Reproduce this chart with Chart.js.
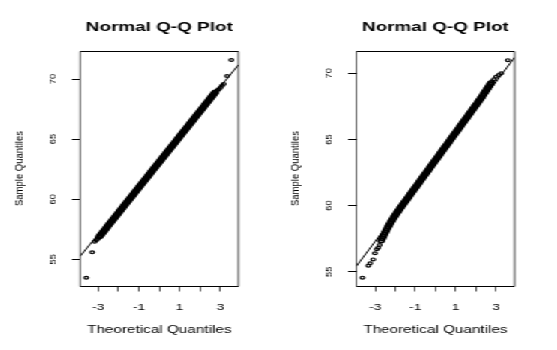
<!DOCTYPE html>
<html>
<head>
<meta charset="utf-8">
<script src="https://cdn.jsdelivr.net/npm/chart.js@4.4.0/dist/chart.umd.min.js"></script>
<style>
  html, body { margin: 0; padding: 0; background: #fff; overflow: hidden; }
  #stage { position: absolute; left: 0; top: 0; width: 372px; height: 350px;
           transform: scaleX(1.5); transform-origin: 0 0; }
  .panel { position: absolute; top: 0; width: 186px; height: 350px; }
</style>
</head>
<body>
<div id="stage">
  <div class="panel" style="left:0"><canvas id="qqLeft"></canvas></div>
  <div class="panel" style="left:186px"><canvas id="qqRight"></canvas></div>
</div>
<script>
// ---- text ----
const mainTitle = 'Normal Q-Q Plot';
const xTitle = 'Theoretical Quantiles';
const yTitle = 'Sample Quantiles';

// ---- axis ticks ----
const xTicks = [-3, -2, -1, 0, 1, 2, 3];
const xTickText = ['-3', '', '-1', '', '1', '', '3'];
const yTicks = [55, 60, 65, 70];
const yTickText = ['55', '60', '65', '70'];

// ---- left sample: theoretical (x) vs sample (y) quantiles ----
// isolated points in the tails
const leftTailX = [-3.59, -3.30, -3.18, -3.10, -3.03, 2.80, 2.86, 2.92, 3.00, 3.08, 3.16, 3.33, 3.54];
const leftTailY = [53.47, 55.58, 56.46, 56.58, 56.70, 68.96, 69.06, 69.14, 69.28, 69.44, 69.58, 70.25, 71.58];
// densely overplotted body
const leftBodyX = [
  -2.95, -2.90, -2.85, -2.80, -2.75, -2.70, -2.65, -2.60, -2.55, -2.50,
  -2.45, -2.40, -2.35, -2.30, -2.25, -2.20, -2.15, -2.10, -2.05, -2.00,
  -1.95, -1.90, -1.85, -1.80, -1.75, -1.70, -1.65, -1.60, -1.55, -1.50,
  -1.45, -1.40, -1.35, -1.30, -1.25, -1.20, -1.15, -1.10, -1.05, -1.00,
  -0.95, -0.90, -0.85, -0.80, -0.75, -0.70, -0.65, -0.60, -0.55, -0.50,
  -0.45, -0.40, -0.35, -0.30, -0.25, -0.20, -0.15, -0.10, -0.05, 0.00,
  0.05, 0.10, 0.15, 0.20, 0.25, 0.30, 0.35, 0.40, 0.45, 0.50,
  0.55, 0.60, 0.65, 0.70, 0.75, 0.80, 0.85, 0.90, 0.95, 1.00,
  1.05, 1.10, 1.15, 1.20, 1.25, 1.30, 1.35, 1.40, 1.45, 1.50,
  1.55, 1.60, 1.65, 1.70, 1.75, 1.80, 1.85, 1.90, 1.95, 2.00,
  2.05, 2.10, 2.15, 2.20, 2.25, 2.30, 2.35, 2.40, 2.45, 2.50,
  2.55, 2.60, 2.65, 2.70, 2.75
];
const leftBodyY = [
  56.88, 56.98, 57.09, 57.19, 57.30, 57.40, 57.51, 57.61, 57.72, 57.83,
  57.93, 58.04, 58.14, 58.25, 58.35, 58.46, 58.56, 58.67, 58.77, 58.88,
  58.99, 59.09, 59.20, 59.30, 59.41, 59.51, 59.62, 59.72, 59.83, 59.94,
  60.04, 60.15, 60.25, 60.36, 60.46, 60.57, 60.67, 60.78, 60.88, 60.99,
  61.10, 61.20, 61.31, 61.41, 61.52, 61.62, 61.73, 61.83, 61.94, 62.05,
  62.15, 62.26, 62.36, 62.47, 62.57, 62.68, 62.78, 62.89, 62.99, 63.10,
  63.21, 63.31, 63.42, 63.52, 63.63, 63.73, 63.84, 63.94, 64.05, 64.16,
  64.26, 64.37, 64.47, 64.58, 64.68, 64.79, 64.89, 65.00, 65.10, 65.21,
  65.32, 65.42, 65.53, 65.63, 65.74, 65.84, 65.95, 66.05, 66.16, 66.27,
  66.37, 66.48, 66.58, 66.69, 66.79, 66.90, 67.00, 67.11, 67.21, 67.32,
  67.43, 67.53, 67.64, 67.74, 67.85, 67.95, 68.06, 68.16, 68.27, 68.38,
  68.48, 68.59, 68.69, 68.80, 68.90
];
// reference line: [intercept, slope]
const leftLine = [63.22, 2.047];

// ---- right sample ----
const rightTailX = [-3.63, -3.34, -3.25, -3.10, -3.01, -2.92, -2.85, -2.78, 2.80, 2.89, 3.00, 3.13, 3.25, 3.58];
const rightTailY = [54.55, 55.46, 55.64, 55.93, 56.39, 56.70, 56.82, 57.02, 69.40, 69.55, 69.74, 69.87, 70.00, 71.00];
const rightBodyX = [
  -2.70, -2.65, -2.60, -2.55, -2.50, -2.45, -2.40, -2.35, -2.30, -2.25,
  -2.20, -2.15, -2.10, -2.05, -2.00, -1.95, -1.90, -1.85, -1.80, -1.75,
  -1.70, -1.65, -1.60, -1.55, -1.50, -1.45, -1.40, -1.35, -1.30, -1.25,
  -1.20, -1.15, -1.10, -1.05, -1.00, -0.95, -0.90, -0.85, -0.80, -0.75,
  -0.70, -0.65, -0.60, -0.55, -0.50, -0.45, -0.40, -0.35, -0.30, -0.25,
  -0.20, -0.15, -0.10, -0.05, 0.00, 0.05, 0.10, 0.15, 0.20, 0.25,
  0.30, 0.35, 0.40, 0.45, 0.50, 0.55, 0.60, 0.65, 0.70, 0.75,
  0.80, 0.85, 0.90, 0.95, 1.00, 1.05, 1.10, 1.15, 1.20, 1.25,
  1.30, 1.35, 1.40, 1.45, 1.50, 1.55, 1.60, 1.65, 1.70, 1.75,
  1.80, 1.85, 1.90, 1.95, 2.00, 2.05, 2.10, 2.15, 2.20, 2.25,
  2.30, 2.35, 2.40, 2.45, 2.50, 2.55, 2.60, 2.65, 2.70, 2.75
];
const rightBodyY = [
  57.35, 57.51, 57.67, 57.82, 57.97, 58.12, 58.26, 58.40, 58.53, 58.66,
  58.79, 58.92, 59.04, 59.16, 59.27, 59.38, 59.49, 59.60, 59.71, 59.81,
  59.91, 60.02, 60.12, 60.23, 60.33, 60.43, 60.54, 60.64, 60.75, 60.85,
  60.95, 61.06, 61.16, 61.27, 61.37, 61.47, 61.58, 61.68, 61.79, 61.89,
  61.99, 62.10, 62.20, 62.31, 62.41, 62.51, 62.62, 62.72, 62.83, 62.93,
  63.03, 63.14, 63.24, 63.35, 63.45, 63.55, 63.66, 63.76, 63.87, 63.97,
  64.07, 64.18, 64.28, 64.39, 64.49, 64.59, 64.70, 64.80, 64.91, 65.01,
  65.11, 65.22, 65.32, 65.43, 65.53, 65.63, 65.74, 65.84, 65.95, 66.05,
  66.15, 66.26, 66.36, 66.47, 66.57, 66.67, 66.78, 66.88, 66.99, 67.09,
  67.19, 67.30, 67.40, 67.51, 67.61, 67.71, 67.82, 67.92, 68.03, 68.13,
  68.24, 68.36, 68.47, 68.59, 68.70, 68.82, 68.93, 69.05, 69.16, 69.28
];
const rightLine = [63.33, 2.014];

// ---- drawing ----
const stretchX = 1.5;           // horizontal scale applied to #stage
const FONT = "'Liberation Sans', Arial, Helvetica, sans-serif";

// full frame around the plot region plus upright-proportioned y labels
const framePlugin = {
  id: 'frame',
  afterDraw(chart, args, opts) {
    const { ctx, chartArea: a, scales } = chart;
    const ys = scales.y;
    ctx.save();
    ctx.strokeStyle = '#000';
    ctx.fillStyle = '#000';
    const top = Math.round(a.top) + 0.5, bot = Math.round(a.bottom) + 0.5;
    ctx.lineWidth = 1;
    ctx.beginPath();
    ctx.moveTo(a.left, top); ctx.lineTo(a.right, top);
    ctx.moveTo(a.left, bot); ctx.lineTo(a.right, bot);
    ctx.stroke();
    ctx.lineWidth = 1 / stretchX;
    ctx.beginPath();
    ctx.moveTo(a.left, top); ctx.lineTo(a.left, bot);
    ctx.moveTo(a.right, top); ctx.lineTo(a.right, bot);
    ctx.stroke();

    ctx.textAlign = 'center';
    ctx.textBaseline = 'middle';
    ctx.font = `9.3px ${FONT}`;
    ys.ticks.forEach(t => {
      const i = yTicks.indexOf(t.value);
      if (i < 0 || !yTickText[i]) return;
      const py = ys.getPixelForValue(t.value);
      ctx.save();
      ctx.translate(a.left - opts.labelOffset / stretchX, py);
      ctx.scale(1 / stretchX, 1);
      ctx.rotate(-Math.PI / 2);
      ctx.fillText(yTickText[i], 0, 0);
      ctx.restore();
    });
    ctx.font = `9.5px ${FONT}`;
    ctx.save();
    ctx.translate(a.left - opts.titleOffset / stretchX, (a.top + a.bottom) / 2);
    ctx.scale(1 / stretchX, 1);
    ctx.rotate(-Math.PI / 2);
    ctx.fillText(yTitle, 0, 0);
    ctx.restore();
    ctx.restore();
  }
};

const toPoints = (xs, ys) => xs.map((x, i) => ({ x, y: ys[i] }));

function qqPanel(id, tailX, tailY, bodyX, bodyY, line, lim, yAxisWidth, padRight) {
  const lineData = [
    { x: lim.x[0], y: line[0] + line[1] * lim.x[0] },
    { x: lim.x[1], y: line[0] + line[1] * lim.x[1] }
  ];
  const marker = { pointStyle: 'circle', borderColor: '#000', backgroundColor: 'rgba(0,0,0,0)' };
  return new Chart(document.getElementById(id), {
    type: 'scatter',
    data: {
      datasets: [
        { type: 'line', data: lineData, borderColor: '#000', borderWidth: 1,
          pointRadius: 0, fill: false, tension: 0 },
        { ...marker, data: toPoints(tailX, tailY), pointRadius: 1.4, pointHoverRadius: 1.4, borderWidth: 1.2 },
        { ...marker, data: toPoints(bodyX, bodyY), pointRadius: 1.9, pointHoverRadius: 1.9, borderWidth: 1.7 }
      ]
    },
    options: {
      responsive: true,
      maintainAspectRatio: false,
      animation: false,
      events: [],
      layout: { padding: { left: 0, right: padRight, top: 0, bottom: 0 } },
      plugins: {
        legend: { display: false },
        tooltip: { enabled: false },
        title: {
          display: true, text: mainTitle, fullSize: false, color: '#000',
          font: { family: FONT, size: 12.6, weight: 'bold' },
          padding: { top: 19.6, bottom: 16.3 }
        },
        frame: { labelOffset: 27.3, titleOffset: 60 }
      },
      scales: {
        x: {
          type: 'linear', min: lim.x[0], max: lim.x[1],
          afterBuildTicks: s => { s.ticks = xTicks.map(v => ({ value: v })); },
          afterFit: s => { s.height = 64; },
          ticks: {
            autoSkip: false, maxRotation: 0, minRotation: 0, padding: 10.1, color: '#000',
            font: { family: FONT, size: 9.3 },
            callback: v => { const i = xTicks.indexOf(v); return i < 0 ? '' : xTickText[i]; }
          },
          grid: { display: true, drawOnChartArea: false, drawTicks: true,
                  tickLength: 5.5, tickWidth: 1 / stretchX, tickColor: '#000' },
          border: { display: false },
          title: { display: true, text: xTitle, color: '#000',
                   font: { family: FONT, size: 10.2 }, padding: { top: 0, bottom: 13.9 } }
        },
        y: {
          type: 'linear', min: lim.y[0], max: lim.y[1],
          afterBuildTicks: s => { s.ticks = yTicks.map(v => ({ value: v })); },
          afterFit: s => { s.width = yAxisWidth; },
          ticks: { display: false },
          grid: { display: true, drawOnChartArea: false, drawTicks: true,
                  tickLength: 5.5, tickWidth: 1, tickColor: '#000' },
          border: { display: false },
          title: { display: false }
        }
      }
    },
    plugins: [framePlugin]
  });
}

qqPanel('qqLeft', leftTailX, leftTailY, leftBodyX, leftBodyY, leftLine,
        { x: [-3.89, 3.89], y: [52.78, 72.33] }, 53.33, 27.13);
qqPanel('qqRight', rightTailX, rightTailY, rightBodyX, rightBodyY, rightLine,
        { x: [-3.93, 3.91], y: [53.92, 71.69] }, 51.53, 28.87);
</script>
</body>
</html>
